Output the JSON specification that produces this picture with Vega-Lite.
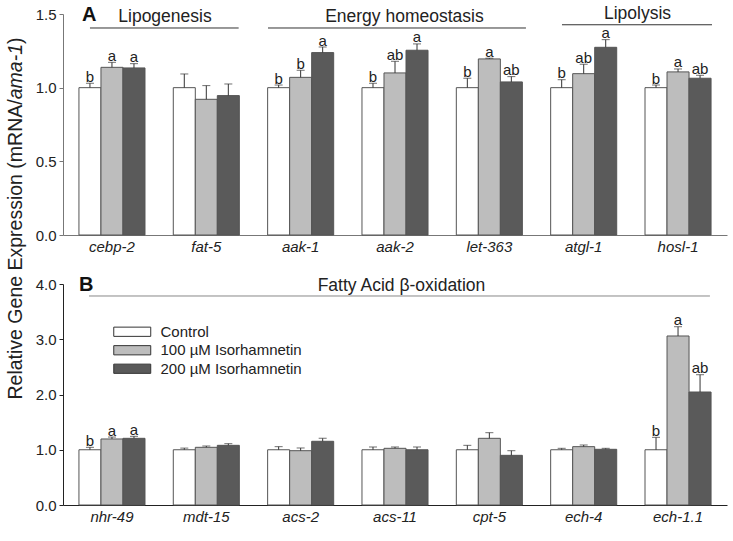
{
  "$schema": "https://vega.github.io/schema/vega-lite/v6.json",
  "padding": {"left": 4, "top": 4, "right": 5, "bottom": 5},
  "bounds": "flush",
  "spacing": 49,
  "config": {"view": {"stroke": null}, "font": "Liberation Sans"},
  "datasets": {
    "exprA": [
      {"gene": "cebp-2", "treatment": "Control", "mean": 1.0, "upper": 1.03, "letter": "b"},
      {"gene": "cebp-2", "treatment": "100 µM Isorhamnetin", "mean": 1.138, "upper": 1.172, "letter": "a"},
      {"gene": "cebp-2", "treatment": "200 µM Isorhamnetin", "mean": 1.134, "upper": 1.163, "letter": "a"},
      {"gene": "fat-5", "treatment": "Control", "mean": 1.0, "upper": 1.093, "letter": ""},
      {"gene": "fat-5", "treatment": "100 µM Isorhamnetin", "mean": 0.921, "upper": 1.014, "letter": ""},
      {"gene": "fat-5", "treatment": "200 µM Isorhamnetin", "mean": 0.946, "upper": 1.025, "letter": ""},
      {"gene": "aak-1", "treatment": "Control", "mean": 1.0, "upper": 1.018, "letter": "b"},
      {"gene": "aak-1", "treatment": "100 µM Isorhamnetin", "mean": 1.07, "upper": 1.118, "letter": "b"},
      {"gene": "aak-1", "treatment": "200 µM Isorhamnetin", "mean": 1.238, "upper": 1.276, "letter": "a"},
      {"gene": "aak-2", "treatment": "Control", "mean": 1.0, "upper": 1.03, "letter": "b"},
      {"gene": "aak-2", "treatment": "100 µM Isorhamnetin", "mean": 1.10, "upper": 1.179, "letter": "ab"},
      {"gene": "aak-2", "treatment": "200 µM Isorhamnetin", "mean": 1.254, "upper": 1.297, "letter": "a"},
      {"gene": "let-363", "treatment": "Control", "mean": 1.0, "upper": 1.064, "letter": "b"},
      {"gene": "let-363", "treatment": "100 µM Isorhamnetin", "mean": 1.195, "upper": 1.2, "letter": "a"},
      {"gene": "let-363", "treatment": "200 µM Isorhamnetin", "mean": 1.039, "upper": 1.075, "letter": "ab"},
      {"gene": "atgl-1", "treatment": "Control", "mean": 1.0, "upper": 1.054, "letter": "b"},
      {"gene": "atgl-1", "treatment": "100 µM Isorhamnetin", "mean": 1.095, "upper": 1.159, "letter": "ab"},
      {"gene": "atgl-1", "treatment": "200 µM Isorhamnetin", "mean": 1.274, "upper": 1.326, "letter": "a"},
      {"gene": "hosl-1", "treatment": "Control", "mean": 1.0, "upper": 1.018, "letter": "b"},
      {"gene": "hosl-1", "treatment": "100 µM Isorhamnetin", "mean": 1.107, "upper": 1.127, "letter": "a"},
      {"gene": "hosl-1", "treatment": "200 µM Isorhamnetin", "mean": 1.064, "upper": 1.084, "letter": "ab"}
    ],
    "exprB": [
      {"gene": "nhr-49", "treatment": "Control", "mean": 1.0, "upper": 1.044, "letter": "b"},
      {"gene": "nhr-49", "treatment": "100 µM Isorhamnetin", "mean": 1.195, "upper": 1.23, "letter": "a"},
      {"gene": "nhr-49", "treatment": "200 µM Isorhamnetin", "mean": 1.207, "upper": 1.243, "letter": "a"},
      {"gene": "mdt-15", "treatment": "Control", "mean": 1.0, "upper": 1.03, "letter": ""},
      {"gene": "mdt-15", "treatment": "100 µM Isorhamnetin", "mean": 1.044, "upper": 1.068, "letter": ""},
      {"gene": "mdt-15", "treatment": "200 µM Isorhamnetin", "mean": 1.08, "upper": 1.11, "letter": ""},
      {"gene": "acs-2", "treatment": "Control", "mean": 1.0, "upper": 1.056, "letter": ""},
      {"gene": "acs-2", "treatment": "100 µM Isorhamnetin", "mean": 0.983, "upper": 1.032, "letter": ""},
      {"gene": "acs-2", "treatment": "200 µM Isorhamnetin", "mean": 1.153, "upper": 1.207, "letter": ""},
      {"gene": "acs-11", "treatment": "Control", "mean": 1.0, "upper": 1.05, "letter": ""},
      {"gene": "acs-11", "treatment": "100 µM Isorhamnetin", "mean": 1.026, "upper": 1.05, "letter": ""},
      {"gene": "acs-11", "treatment": "200 µM Isorhamnetin", "mean": 1.0, "upper": 1.05, "letter": ""},
      {"gene": "cpt-5", "treatment": "Control", "mean": 1.0, "upper": 1.08, "letter": ""},
      {"gene": "cpt-5", "treatment": "100 µM Isorhamnetin", "mean": 1.207, "upper": 1.309, "letter": ""},
      {"gene": "cpt-5", "treatment": "200 µM Isorhamnetin", "mean": 0.899, "upper": 0.983, "letter": ""},
      {"gene": "ech-4", "treatment": "Control", "mean": 1.0, "upper": 1.026, "letter": ""},
      {"gene": "ech-4", "treatment": "100 µM Isorhamnetin", "mean": 1.056, "upper": 1.086, "letter": ""},
      {"gene": "ech-4", "treatment": "200 µM Isorhamnetin", "mean": 1.008, "upper": 1.026, "letter": ""},
      {"gene": "ech-1.1", "treatment": "Control", "mean": 1.0, "upper": 1.225, "letter": "b"},
      {"gene": "ech-1.1", "treatment": "100 µM Isorhamnetin", "mean": 3.059, "upper": 3.227, "letter": "a"},
      {"gene": "ech-1.1", "treatment": "200 µM Isorhamnetin", "mean": 2.045, "upper": 2.358, "letter": "ab"}
    ],
    "annA": [
      {"label": "Lipogenesis", "x1": -0.233, "x2": 1.343, "xc": 0.562, "yline": 1.405, "ytext": 1.446},
      {"label": "Energy homeostasis", "x1": 1.654, "x2": 4.388, "xc": 3.1, "yline": 1.405, "ytext": 1.446},
      {"label": "Lipolysis", "x1": 4.77, "x2": 6.36, "xc": 5.57, "yline": 1.427, "ytext": 1.463}
    ],
    "annB": [
      {"label": "Fatty Acid β-oxidation", "x1": -0.243, "x2": 6.338, "xc": 3.069, "yline": 3.783, "ytext": 3.873}
    ],
    "tagA": [{"tag": "A", "x": -0.318, "y": 1.4545}],
    "tagB": [{"tag": "B", "x": -0.349, "y": 3.873}]
  },
  "vconcat": [
    {
      "width": 664,
      "height": 221,
      "layer": [
        {
          "data": {"name": "exprA"},
          "layer": [
            {
              "mark": {"type": "bar", "stroke": "#555", "strokeWidth": 1},
              "encoding": {
                "x": {"field": "gene", "type": "nominal", "sort": ["cebp-2", "fat-5", "aak-1", "aak-2", "let-363", "atgl-1", "hosl-1"],
                  "scale": {"paddingInner": 0.3, "paddingOuter": 0.169},
                  "axis": {"title": null, "labelAngle": 0, "labelFontStyle": "italic", "labelFontSize": 15, "labelColor": "#222", "labelPadding": 4, "ticks": false, "domainColor": "#777", "labelFont": "Liberation Sans"}},
                "xOffset": {"field": "treatment", "type": "nominal", "sort": ["Control", "100 µM Isorhamnetin", "200 µM Isorhamnetin"], "scale": {"paddingInner": 0, "paddingOuter": 0}},
                "y": {"field": "mean", "type": "quantitative", "scale": {"domain": [0, 1.5], "nice": false},
                  "axis": {"orient": "left", "title": "Relative Gene Expression (mRNA/", "titleX": -42, "titleY": 385, "titleAngle": 270, "titleAlign": "left", "titleBaseline": "alphabetic", "titleFontSize": 19.5, "titleFontWeight": "normal", "titleColor": "#222", "titleFont": "Liberation Sans",
                    "values": [0, 0.5, 1, 1.5], "format": ".1f", "tickSize": 4, "labelFontSize": 15, "labelColor": "#222", "labelPadding": 3, "grid": false, "domainColor": "#777", "tickColor": "#777", "labelFont": "Liberation Sans"}},
                "fill": {"field": "treatment", "type": "nominal", "scale": {"domain": ["Control", "100 µM Isorhamnetin", "200 µM Isorhamnetin"], "range": ["#ffffff", "#bdbdbd", "#5a5a5a"]}, "legend": null}
              }
            },
            {
              "mark": {"type": "rule", "color": "#333", "strokeWidth": 1},
              "encoding": {
                "x": {"field": "gene", "type": "nominal", "sort": ["cebp-2", "fat-5", "aak-1", "aak-2", "let-363", "atgl-1", "hosl-1"]},
                "xOffset": {"field": "treatment", "type": "nominal", "sort": ["Control", "100 µM Isorhamnetin", "200 µM Isorhamnetin"]},
                "y": {"field": "mean", "type": "quantitative", "scale": {"domain": [0, 1.5], "nice": false},
                  "axis": {"orient": "left", "title": "ama-1", "titleFontStyle": "italic", "titleX": -42, "titleY": 84.8, "titleAngle": 270, "titleAlign": "left", "titleBaseline": "alphabetic", "titleFontSize": 19.5, "titleFontWeight": "normal", "titleColor": "#222", "titleFont": "Liberation Sans", "labels": false, "ticks": false, "domain": false, "grid": false}},
                "y2": {"field": "upper"}
              }
            },
            {
              "mark": {"type": "tick", "orient": "horizontal", "size": 8, "thickness": 1, "color": "#333"},
              "encoding": {
                "x": {"field": "gene", "type": "nominal", "sort": ["cebp-2", "fat-5", "aak-1", "aak-2", "let-363", "atgl-1", "hosl-1"]},
                "xOffset": {"field": "treatment", "type": "nominal", "sort": ["Control", "100 µM Isorhamnetin", "200 µM Isorhamnetin"]},
                "y": {"field": "upper", "type": "quantitative", "scale": {"domain": [0, 1.5], "nice": false},
                  "axis": {"orient": "left", "title": ")", "titleX": -42, "titleY": 29.5, "titleAngle": 270, "titleAlign": "left", "titleBaseline": "alphabetic", "titleFontSize": 19.5, "titleFontWeight": "normal", "titleColor": "#222", "titleFont": "Liberation Sans", "labels": false, "ticks": false, "domain": false, "grid": false}}
              }
            },
            {
              "mark": {"type": "text", "baseline": "alphabetic", "dy": -1.5, "fontSize": 15, "color": "#222", "font": "Liberation Sans"},
              "encoding": {
                "x": {"field": "gene", "type": "nominal", "sort": ["cebp-2", "fat-5", "aak-1", "aak-2", "let-363", "atgl-1", "hosl-1"]},
                "xOffset": {"field": "treatment", "type": "nominal", "sort": ["Control", "100 µM Isorhamnetin", "200 µM Isorhamnetin"]},
                "y": {"field": "upper", "type": "quantitative", "scale": {"domain": [0, 1.5], "nice": false}, "axis": null},
                "text": {"field": "letter"}
              }
            }
          ],
          "resolve": {"axis": {"y": "independent"}}
        },
        {
          "layer": [
            {
              "data": {"name": "annA"},
              "mark": {"type": "rule", "color": "#333", "strokeWidth": 1},
              "encoding": {
                "x": {"field": "x1", "type": "quantitative", "scale": {"domain": [-0.519, 6.519], "nice": false, "zero": false}, "axis": null},
                "x2": {"field": "x2"},
                "y": {"field": "yline", "type": "quantitative", "scale": {"domain": [0, 1.5], "nice": false}, "axis": null}
              }
            },
            {
              "data": {"name": "annA"},
              "mark": {"type": "text", "baseline": "alphabetic", "align": "center", "fontSize": 17.5, "color": "#222", "font": "Liberation Sans"},
              "encoding": {
                "x": {"field": "xc", "type": "quantitative", "scale": {"domain": [-0.519, 6.519], "nice": false, "zero": false}, "axis": null},
                "y": {"field": "ytext", "type": "quantitative", "scale": {"domain": [0, 1.5], "nice": false}, "axis": null},
                "text": {"field": "label"}
              }
            },
            {
              "data": {"name": "tagA"},
              "mark": {"type": "text", "baseline": "alphabetic", "align": "left", "fontSize": 20, "fontWeight": "bold", "color": "#111", "font": "Liberation Sans"},
              "encoding": {
                "x": {"field": "x", "type": "quantitative", "scale": {"domain": [-0.519, 6.519], "nice": false, "zero": false}, "axis": null},
                "y": {"field": "y", "type": "quantitative", "scale": {"domain": [0, 1.5], "nice": false}, "axis": null},
                "text": {"field": "tag"}
              }
            }
          ]
        }
      ],
      "resolve": {"scale": {"x": "independent"}, "axis": {"x": "independent", "y": "independent"}}
    },
    {
      "width": 664,
      "height": 221,
      "layer": [
        {
          "data": {"name": "exprB"},
          "layer": [
            {
              "mark": {"type": "bar", "stroke": "#555", "strokeWidth": 1},
              "encoding": {
                "x": {"field": "gene", "type": "nominal", "sort": ["nhr-49", "mdt-15", "acs-2", "acs-11", "cpt-5", "ech-4", "ech-1.1"],
                  "scale": {"paddingInner": 0.3, "paddingOuter": 0.169},
                  "axis": {"title": null, "labelAngle": 0, "labelFontStyle": "italic", "labelFontSize": 15, "labelColor": "#222", "labelPadding": 4, "ticks": false, "domainColor": "#222", "labelFont": "Liberation Sans"}},
                "xOffset": {"field": "treatment", "type": "nominal", "sort": ["Control", "100 µM Isorhamnetin", "200 µM Isorhamnetin"], "scale": {"paddingInner": 0, "paddingOuter": 0}},
                "y": {"field": "mean", "type": "quantitative", "scale": {"domain": [0, 4], "nice": false},
                  "axis": {"title": null, "values": [0, 1, 2, 3, 4], "format": ".1f", "tickSize": 4, "labelFontSize": 15, "labelColor": "#222", "labelPadding": 3, "grid": false, "domainColor": "#222", "tickColor": "#222", "labelFont": "Liberation Sans"}},
                "fill": {"field": "treatment", "type": "nominal", "scale": {"domain": ["Control", "100 µM Isorhamnetin", "200 µM Isorhamnetin"], "range": ["#ffffff", "#bdbdbd", "#5a5a5a"]},
                  "legend": {"orient": "none", "legendX": 59.25, "legendY": 37.75, "title": null, "padding": 0, "symbolType": "M-2,-0.5H2V0.5H-2Z", "symbolSize": 342, "symbolStrokeColor": "#333", "symbolStrokeWidth": 1, "labelFontSize": 15, "labelColor": "#222", "labelFont": "Liberation Sans", "labelOffset": 18.25, "rowPadding": 0.5}}
              }
            },
            {
              "mark": {"type": "rule", "color": "#333", "strokeWidth": 1},
              "encoding": {
                "x": {"field": "gene", "type": "nominal", "sort": ["nhr-49", "mdt-15", "acs-2", "acs-11", "cpt-5", "ech-4", "ech-1.1"]},
                "xOffset": {"field": "treatment", "type": "nominal", "sort": ["Control", "100 µM Isorhamnetin", "200 µM Isorhamnetin"]},
                "y": {"field": "mean", "type": "quantitative", "scale": {"domain": [0, 4], "nice": false}},
                "y2": {"field": "upper"}
              }
            },
            {
              "mark": {"type": "tick", "orient": "horizontal", "size": 8, "thickness": 1, "color": "#333"},
              "encoding": {
                "x": {"field": "gene", "type": "nominal", "sort": ["nhr-49", "mdt-15", "acs-2", "acs-11", "cpt-5", "ech-4", "ech-1.1"]},
                "xOffset": {"field": "treatment", "type": "nominal", "sort": ["Control", "100 µM Isorhamnetin", "200 µM Isorhamnetin"]},
                "y": {"field": "upper", "type": "quantitative", "scale": {"domain": [0, 4], "nice": false}}
              }
            },
            {
              "mark": {"type": "text", "baseline": "alphabetic", "dy": -1.5, "fontSize": 15, "color": "#222", "font": "Liberation Sans"},
              "encoding": {
                "x": {"field": "gene", "type": "nominal", "sort": ["nhr-49", "mdt-15", "acs-2", "acs-11", "cpt-5", "ech-4", "ech-1.1"]},
                "xOffset": {"field": "treatment", "type": "nominal", "sort": ["Control", "100 µM Isorhamnetin", "200 µM Isorhamnetin"]},
                "y": {"field": "upper", "type": "quantitative", "scale": {"domain": [0, 4], "nice": false}},
                "text": {"field": "letter"}
              }
            }
          ]
        },
        {
          "layer": [
            {
              "data": {"name": "annB"},
              "mark": {"type": "rule", "color": "#888", "strokeWidth": 1},
              "encoding": {
                "x": {"field": "x1", "type": "quantitative", "scale": {"domain": [-0.519, 6.519], "nice": false, "zero": false}, "axis": null},
                "x2": {"field": "x2"},
                "y": {"field": "yline", "type": "quantitative", "scale": {"domain": [0, 4], "nice": false}, "axis": null}
              }
            },
            {
              "data": {"name": "annB"},
              "mark": {"type": "text", "baseline": "alphabetic", "align": "center", "fontSize": 17.5, "color": "#222", "font": "Liberation Sans"},
              "encoding": {
                "x": {"field": "xc", "type": "quantitative", "scale": {"domain": [-0.519, 6.519], "nice": false, "zero": false}, "axis": null},
                "y": {"field": "ytext", "type": "quantitative", "scale": {"domain": [0, 4], "nice": false}, "axis": null},
                "text": {"field": "label"}
              }
            },
            {
              "data": {"name": "tagB"},
              "mark": {"type": "text", "baseline": "alphabetic", "align": "left", "fontSize": 20, "fontWeight": "bold", "color": "#111", "font": "Liberation Sans"},
              "encoding": {
                "x": {"field": "x", "type": "quantitative", "scale": {"domain": [-0.519, 6.519], "nice": false, "zero": false}, "axis": null},
                "y": {"field": "y", "type": "quantitative", "scale": {"domain": [0, 4], "nice": false}, "axis": null},
                "text": {"field": "tag"}
              }
            }
          ]
        }
      ],
      "resolve": {"scale": {"x": "independent"}, "axis": {"x": "independent", "y": "independent"}}
    }
  ],
  "resolve": {"scale": {"x": "independent", "y": "independent", "fill": "independent"}}
}
